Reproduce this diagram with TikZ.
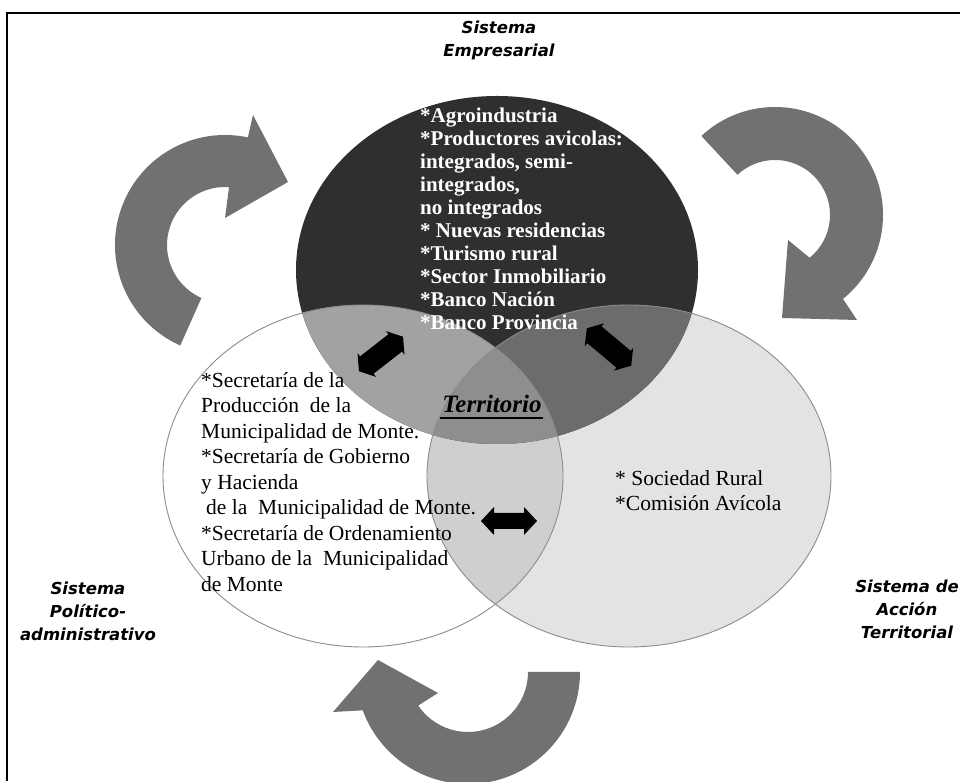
\documentclass[tikz,border=0pt]{standalone}
\usepackage{fontspec}
\setmainfont{Liberation Serif}
\newfontfamily\lblfont{DejaVu Sans}
\usetikzlibrary{calc}
\definecolor{darkc}{HTML}{2F2F2F}
\definecolor{rightc}{HTML}{E3E3E3}
\definecolor{lrc}{HTML}{CFCFCF}
\definecolor{dlc}{HTML}{A2A2A2}
\definecolor{drc}{HTML}{6C6C6C}
\definecolor{tric}{HTML}{8E8E8E}
\definecolor{arrc}{HTML}{717171}
\definecolor{rimc}{HTML}{8C8C8C}
\begin{document}
\begin{tikzpicture}[x=1pt,y=1pt,
  syslabel/.style={font=\lblfont\bfseries\itshape\fontsize{16.5}{23}\selectfont,align=center,inner sep=0pt},
  darktext/.style={font=\bfseries\fontsize{21}{23}\selectfont,text=white,align=left,inner sep=0pt,anchor=north west},
  bodytext/.style={font=\fontsize{21.5}{25.5}\selectfont,align=left,inner sep=0pt,anchor=north west},
  cycarrow/.style={fill=arrc},
  blockarrow/.style={fill=black},
  rim/.style={draw=rimc,line width=0.9pt},
  frameline/.style={draw=black,line width=1.5pt}]
\useasboundingbox (0,0) rectangle (960,781);
\fill[white] (0,0) rectangle (960,781);
% frame
\draw[frameline] (7,0) -- (7,768) -- (960,768);
% circle centres
\coordinate (cD) at (497,511);
\coordinate (cL) at (363,305);
\coordinate (cR) at (629,305);
% fills
\fill[rightc] (cR) ellipse [x radius=202pt,y radius=171pt];
\fill[white] (cL) ellipse [x radius=200pt,y radius=171pt];
\begin{scope}
  \clip (cL) ellipse [x radius=200pt,y radius=171pt];
  \fill[lrc] (cR) ellipse [x radius=202pt,y radius=171pt];
\end{scope}
\fill[darkc] (cD) ellipse [x radius=201pt,y radius=174pt];
\begin{scope}
  \clip (cD) ellipse [x radius=201pt,y radius=174pt];
  \fill[dlc] (cL) ellipse [x radius=200pt,y radius=171pt];
  \fill[drc] (cR) ellipse [x radius=202pt,y radius=171pt];
  \clip (cL) ellipse [x radius=200pt,y radius=171pt];
  \fill[tric] (cR) ellipse [x radius=202pt,y radius=171pt];
\end{scope}
\draw[rim] (cL) ellipse [x radius=200pt,y radius=171pt];
\draw[rim] (cR) ellipse [x radius=202pt,y radius=171pt];
% curved arrows
\coordinate (c1) at (225,536);
\coordinate (c2) at (775,566);
\coordinate (c3) at (468,109);
\fill[cycarrow] ($(c1)+(246:110pt)$) arc[start angle=246,end angle=78,radius=110pt]
  -- (253,666) -- (288,599) -- (225,563)
  -- ($(c1)+(86:58pt)$) arc[start angle=86,end angle=246,radius=58pt] -- cycle;
\fill[cycarrow] ($(c2)+(133:108pt)$) arc[start angle=133,end angle=-51,radius=108pt]
  -- (857,461) -- (782,463) -- (788,541)
  -- ($(c2)+(-51:55pt)$) arc[start angle=-51,end angle=133,radius=55pt] -- cycle;
\fill[cycarrow] ($(c3)+(0:112pt)$) arc[start angle=0,end angle=-160,radius=112pt]
  -- (333,69) -- (378,121) -- (438,88)
  -- ($(c3)+(-146:60pt)$) arc[start angle=-146,end angle=0,radius=60pt] -- cycle;
% texts
\node[syslabel] (semp) at (499,741) {Sistema\\Empresarial};
\node[syslabel] (spol) at (88,170) {Sistema\\Político-\\administrativo};
\node[syslabel] (sacc) at (907,172) {Sistema de\\Acción\\Territorial};
\node[darktext] (emp) at (420,673) {*Agroindustria\\*Productores avicolas:\\integrados, semi-\\integrados,\\no integrados\\* Nuevas residencias\\*Turismo rural\\*Sector Inmobiliario\\*Banco Nación\\*Banco Provincia};
\node[bodytext] (pol) at (201,409) {*Secretaría de la\\Producción\ \ de la\\Municipalidad de Monte.\\*Secretaría de Gobierno\\y Hacienda\\\hspace{5pt}de la\ \ Municipalidad de Monte.\\*Secretaría de Ordenamiento\\Urbano de la\ \ Municipalidad\\de Monte};
\node[bodytext] (acc) at (615,311) {* Sociedad Rural\\*Comisión Avícola};
\node[font=\bfseries\itshape\fontsize{25}{28}\selectfont,inner sep=0pt,anchor=base] (terr) at (492,368) {Territorio};
\draw[line width=2.2pt] ($(terr.base west)+(-2,-5)$) -- ($(terr.base east)+(1,-5)$);
% block double arrows
\coordinate (aL) at (381,427);
\coordinate (aR) at (609,434);
\coordinate (aM) at (509,260);
\fill[blockarrow,shift={(aL)},rotate=38] (-28,0) -- (-18,15) -- (-18,11) -- (18,11) -- (18,15) -- (28,0) -- (18,-15) -- (18,-11) -- (-18,-11) -- (-18,-15) -- cycle;
\fill[blockarrow,shift={(aR)},rotate=-40] (-29,0) -- (-19,15) -- (-19,11) -- (19,11) -- (19,15) -- (29,0) -- (19,-15) -- (19,-11) -- (-19,-11) -- (-19,-15) -- cycle;
\fill[blockarrow,shift={(aM)}] (-28,0) -- (-15,14) -- (-15,8) -- (15,8) -- (15,14) -- (28,0) -- (15,-14) -- (15,-8) -- (-15,-8) -- (-15,-14) -- cycle;
\end{tikzpicture}
\end{document}
